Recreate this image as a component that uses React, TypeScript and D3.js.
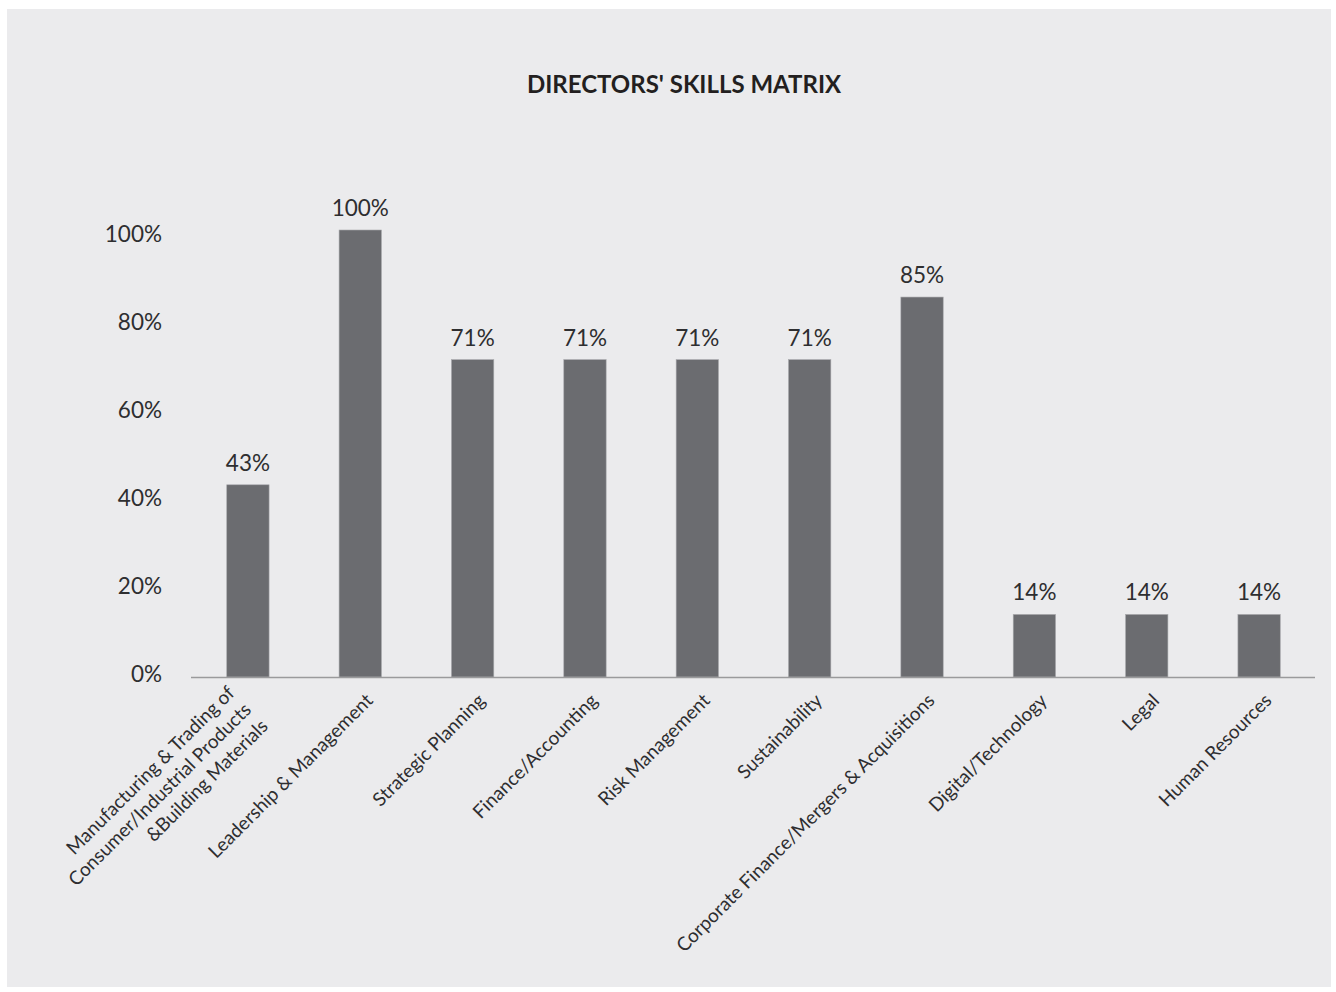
import React from "react";
import * as d3 from "d3";

const title = "DIRECTORS' SKILLS MATRIX";
const categories: string[][] = [
  ["Manufacturing & Trading of", "Consumer/Industrial Products", "&Building Materials"],
  ["Leadership & Management"],
  ["Strategic Planning"],
  ["Finance/Accounting"],
  ["Risk Management"],
  ["Sustainability"],
  ["Corporate Finance/Mergers & Acquisitions"],
  ["Digital/Technology"],
  ["Legal"],
  ["Human Resources"],
];
const values = [43, 100, 71, 71, 71, 71, 85, 14, 14, 14];
const yTicks = [0, 20, 40, 60, 80, 100];

const W = 1336;
const H = 992;
const FONT = "Lato, 'Open Sans', sans-serif";

export default function App() {
  const x = d3
    .scaleBand<number>()
    .domain(d3.range(values.length))
    .range([191, 1316])
    .paddingInner(0.623)
    .paddingOuter(0.318);
  const y = d3.scaleLinear().domain([0, 100]).range([677, 230]);
  // tick labels in the source sit on a slightly tighter scale than the bars
  const yLabel = d3.scaleLinear().domain([0, 100]).range([674.5, 234]);
  const barColor = "#6b6c70";
  const textColor = "#2e2e30";

  return (
    <svg
      width={W}
      height={H}
      style={{ position: "absolute", left: 0, top: 0 }}
      fontFamily={FONT}
    >
      <rect x={0} y={0} width={W} height={H} fill="#ffffff" />
      <rect x={7} y={9} width={1324} height={978} fill="#ebebed" />
      <text
        x={684}
        y={93}
        textAnchor="middle"
        fontSize={24}
        fontWeight={700}
        fill="#231f20"
      >
        {title}
      </text>
      {yTicks.map((t) => (
        <text
          key={t}
          x={162}
          y={yLabel(t)}
          dy="0.35em"
          textAnchor="end"
          fontSize={22.5}
          fontWeight={400}
          fill={textColor}
        >
          {t}%
        </text>
      ))}
      {values.map((v, i) => (
        <g key={i}>
          <rect
            x={x(i)!}
            y={y(v)}
            width={x.bandwidth()}
            height={y(0) - y(v)}
            fill={barColor}
            stroke="#a9aaad"
            strokeWidth={0.6}
          />
          <text
            x={x(i)! + x.bandwidth() / 2}
            y={y(v) - 14}
            textAnchor="middle"
            fontSize={22.5}
            fontWeight={400}
            fill={textColor}
          >
            {v}%
          </text>
        </g>
      ))}
      <line x1={191} x2={1315} y1={677.5} y2={677.5} stroke="#9a9a9c" strokeWidth={1.6} />
      {categories.map((lines, i) => {
        const cx = x(i)! + x.bandwidth() / 2 + 9;
        const cy = 697;
        const n = lines.length;
        const tx = n > 1 ? -13 : 0;
        return (
          <text
            key={i}
            transform={`translate(${cx},${cy}) rotate(-45)`}
            textAnchor="end"
            fontSize={19}
            fontWeight={400}
            fill={textColor}
          >
            {lines.map((l, j) => (
              <tspan key={j} x={tx} dy={j === 0 ? `${0.35 - (n - 1) * 0.62}em` : "1.24em"}>
                {l}
              </tspan>
            ))}
          </text>
        );
      })}
    </svg>
  );
}
